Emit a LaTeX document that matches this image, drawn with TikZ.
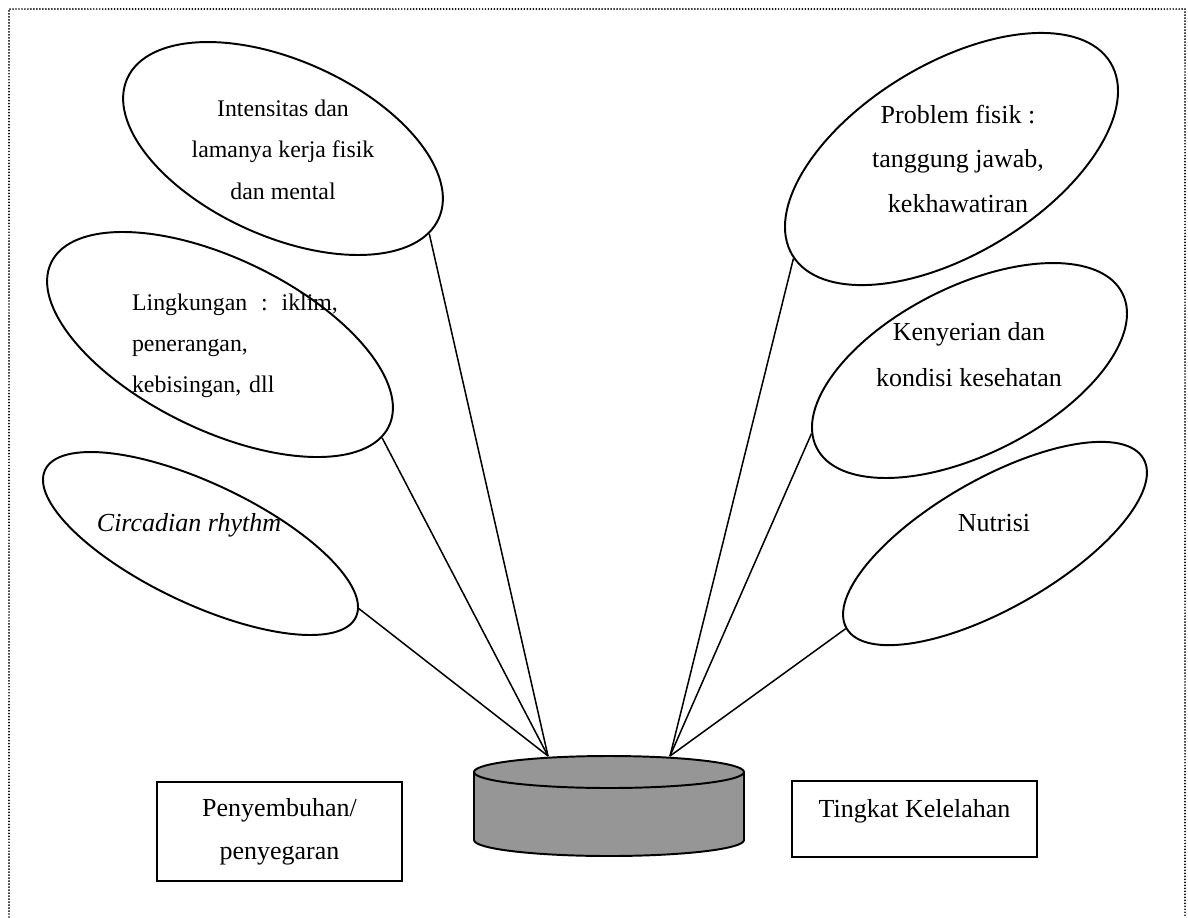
\documentclass[tikz,border=0pt]{standalone}
\usepackage{fontspec}
\setmainfont{Liberation Serif}
\usetikzlibrary{shapes.geometric}
\definecolor{drumgray}{RGB}{150,150,150}

\begin{document}
\begin{tikzpicture}[
  x=0.4615pt, y=-0.4615pt,
  bubble/.style={ellipse, draw, line width=0.9pt, inner sep=0pt},
  bubtext/.style={align=center, inner sep=0pt, font=\fontsize{12}{20.5}\selectfont},
  smalltext/.style={align=center, inner sep=0pt, font=\fontsize{11}{19}\selectfont},
  factorbox/.style={draw, line width=0.9pt, minimum width=113.1pt,
    font=\fontsize{12}{19.8}\selectfont},
  spoke/.style={line width=0.7pt},
  drum/.style={fill=drumgray, draw, line width=0.9pt},
  pageframe/.style={line width=0.9pt, line cap=round, dash pattern=on 0pt off 1.38pt}
]
\useasboundingbox (0,0) rectangle (1188,917);
% Dotted page frame, open at the bottom.
\draw[pageframe] (9,917) -- (9,9) -- (1185,9) -- (1185,917);

% Factors on the left.
\node[bubble, rotate=-24.2, minimum width=157.6pt, minimum height=81.2pt]
  (intens) at (283,148.5) {};
\node[smalltext] (intenstxt) at (283,149.7)
  {Intensitas dan\\lamanya kerja fisik\\dan mental};
\node[bubble, rotate=-25.9, minimum width=173.2pt, minimum height=79.1pt]
  (envir) at (220,344.5) {};
\node[smalltext, align=left, text width=95pt] (envirtxt) at (235,346)
  {Lingkungan\hfill:\hfill iklim,\\penerangan,\\kebisingan, dll};
\node[bubble, rotate=-25.35, minimum width=158.7pt, minimum height=55.5pt]
  (circ) at (200.5,543.5) {};
\node[bubtext] (circtxt) at (189,525.6) {\itshape Circadian rhythm};

% Factors on the right.
\node[bubble, rotate=31.2, minimum width=171.6pt, minimum height=87.8pt]
  (probl) at (951.5,159) {};
\node[bubtext] (probltxt) at (958,158.6)
  {Problem fisik :\\tanggung jawab,\\kekhawatiran};
\node[bubble, rotate=26.8, minimum width=158.1pt, minimum height=77.3pt]
  (kenyer) at (969.5,370.5) {};
\node[bubtext, font=\fontsize{12}{21.2}\selectfont] (kenyertxt) at (969,354.8)
  {Kenyerian dan\\kondisi kesehatan};
\node[bubble, rotate=29.7, minimum width=157.8pt, minimum height=59.7pt]
  (nutri) at (995,543.5) {};
\node[bubtext] (nutritxt) at (994,522.8) {Nutrisi};

% Spokes down to the drum.
\coordinate (drumL) at (548,756);
\coordinate (drumR) at (670,756);
\draw[spoke] (intens.-6) -- (drumL);
\draw[spoke] (envir.-4) -- (drumL);
\draw[spoke] (circ.3) -- (drumL);
\draw[spoke] (probl.181) -- (drumR);
\draw[spoke] (kenyer.175) -- (drumR);
\draw[spoke] (nutri.180) -- (drumR);

% The drum.
\draw[drum] (474,772) -- (474,840)
  arc[start angle=180, end angle=0, x radius=135, y radius=16] -- (744,772);
\draw[drum] (609,772) ellipse [x radius=135, y radius=16];

% Boxes beside the drum.
\node[factorbox, align=center, minimum height=45.7pt] (heal) at (279.5,831.5)
  {Penyembuhan/\\penyegaran};
\node[factorbox, inner sep=0pt, text height=16.6pt, text depth=18.5pt,
  anchor=base] (fatigue) at (914.5,817) {Tingkat Kelelahan};
\end{tikzpicture}
\end{document}
